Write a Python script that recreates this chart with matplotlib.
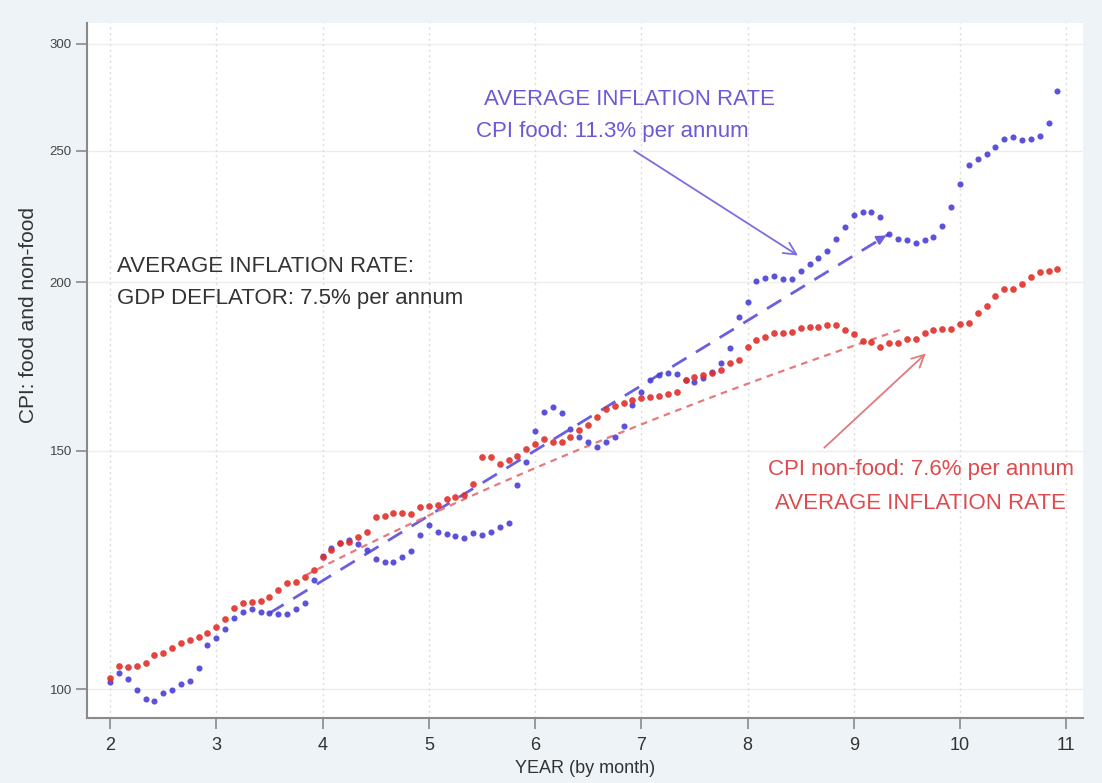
import numpy as np
import matplotlib
matplotlib.use("Agg")
import matplotlib.pyplot as plt
from matplotlib.ticker import FixedLocator, NullLocator, FixedFormatter

plt.rcParams['font.family'] = ['Liberation Sans', 'DejaVu Sans']

# monthly CPI readings, year 2 month 1 .. year 10 month 12
cpi_nonfood = [
    101.9, 104.0, 103.8, 104.0, 104.5, 106.0, 106.3, 107.2, 108.2, 108.7, 109.3, 110.0,
    111.1, 112.7, 114.8, 115.8, 116.0, 116.2, 117.0, 118.4, 119.8, 120.0, 121.0, 122.5,
    125.2, 126.7, 128.2, 128.5, 129.6, 130.7, 134.0, 134.3, 135.0, 135.0, 134.7, 136.4,
    136.6, 136.8, 138.2, 138.7, 139.2, 141.8, 148.5, 148.5, 146.7, 147.7, 148.7, 150.5,
    151.8, 153.1, 152.3, 152.3, 153.6, 155.5, 156.8, 158.9, 161.1, 161.9, 162.8, 163.6,
    164.2, 164.4, 164.7, 165.3, 165.9, 169.3, 170.2, 170.7, 171.3, 172.2, 174.3, 175.2,
    179.1, 181.2, 182.1, 183.4, 183.4, 183.7, 185.0, 185.3, 185.3, 185.9, 185.9, 184.3,
    183.1, 180.9, 180.6, 179.1, 180.3, 180.3, 181.5, 181.5, 183.4, 184.3, 184.7, 184.7,
    186.2, 186.5, 189.7, 192.0, 195.3, 197.7, 197.7, 199.4, 201.8, 203.5, 203.8, 204.5,
]
cpi_food = [
    101.2, 102.8, 101.7, 99.8, 98.3, 98.0, 99.3, 99.8, 100.9, 101.4, 103.6, 107.8,
    109.1, 110.8, 112.9, 114.0, 114.6, 114.0, 113.8, 113.6, 113.6, 114.6, 115.8, 120.4,
    125.4, 127.2, 128.2, 128.9, 128.0, 126.7, 124.8, 124.2, 124.2, 125.2, 126.5, 130.0,
    132.2, 130.7, 130.2, 129.8, 129.3, 130.4, 130.0, 130.7, 131.8, 132.7, 141.6, 147.2,
    155.2, 160.3, 161.7, 160.0, 155.7, 153.6, 152.3, 151.0, 152.3, 153.6, 156.5, 162.2,
    165.9, 169.3, 170.7, 171.3, 171.0, 169.3, 168.7, 169.9, 171.6, 174.3, 178.8, 188.5,
    193.3, 200.4, 201.4, 202.1, 201.1, 201.1, 203.8, 206.3, 208.4, 210.9, 215.2, 219.7,
    224.2, 225.4, 225.4, 223.5, 217.1, 215.2, 214.9, 213.8, 214.9, 216.0, 220.1, 227.3,
    236.4, 244.2, 246.7, 248.8, 251.8, 255.2, 256.1, 254.8, 255.2, 256.5, 262.3, 277.0,
]
years = 2 + np.arange(len(cpi_food)) / 12.0

# fitted trend lines (start/end)
food_trend_x = [3.5, 9.33]
food_trend_y = [113.8, 217.0]
nonfood_trend_x = [3.85, 9.45]
nonfood_trend_y = [121.5, 184.5]

x_ticks = [2, 3, 4, 5, 6, 7, 8, 9, 10, 11]
y_ticks = [100, 150, 200, 250, 300]

blue_dot = '#4a3fd6'
red_dot = '#e0302b'
blue_txt = '#6b5ad6'
red_txt = '#de4b4e'

fig = plt.figure(figsize=(11.02, 7.83), dpi=100, facecolor='#edf3f6')
ax = fig.add_axes([0.079, 0.083, 0.904, 0.888])
ax.set_facecolor('white')

ax.set_yscale('log')
ax.set_xlim(1.783, 11.16)
ax.set_ylim(95.2, 311)

# grid
for yt in y_ticks:
    ax.axhline(yt, color='#ededed', lw=1.0, zorder=0)
for xt in x_ticks:
    ax.axvline(xt, color='#dcdcdc', lw=1.0, ls=(0, (1.5, 2.5)), zorder=0)

# trend lines
ax.plot(food_trend_x, food_trend_y, color='#6a5fe0', lw=2.0, ls=(0, (6, 4)), zorder=2)
ax.annotate('', xy=(food_trend_x[1], food_trend_y[1]),
            xytext=(food_trend_x[1] - 0.08, food_trend_y[1] * 0.992),
            arrowprops=dict(arrowstyle='-|>', color='#6a5fe0', lw=1.5,
                            mutation_scale=14), zorder=2)
tx = np.linspace(nonfood_trend_x[0], nonfood_trend_x[1], 50)
ty = np.interp(tx, nonfood_trend_x, nonfood_trend_y)
ax.plot(tx, ty, color='#e8787a', lw=1.6, ls=(0, (3, 2.5)), zorder=2)

# data points
ax.plot(years, cpi_food, ls='none', marker='o', ms=4.4, color=blue_dot,
        markeredgewidth=0, alpha=0.9, zorder=3)
ax.plot(years, cpi_nonfood, ls='none', marker='o', ms=4.8, color=red_dot,
        markeredgewidth=0, alpha=0.9, zorder=3)

# axes styling
for s in ['top', 'right']:
    ax.spines[s].set_visible(False)
for s in ['left', 'bottom']:
    ax.spines[s].set_color('#8a8a8a')
    ax.spines[s].set_linewidth(1.5)
ax.yaxis.set_major_locator(FixedLocator(y_ticks))
ax.yaxis.set_major_formatter(FixedFormatter([str(v) for v in y_ticks]))
ax.yaxis.set_minor_locator(NullLocator())
ax.set_xticks(x_ticks)
ax.tick_params(axis='y', labelsize=9.5, length=8, width=1.2, color='#8a8a8a',
               labelcolor='#444444', pad=3)
ax.tick_params(axis='x', labelsize=13, length=8, width=1.2, color='#8a8a8a',
               labelcolor='#333333', pad=6)

ax.set_ylabel('CPI: food and non-food', fontsize=15, color='#333333')
ax.yaxis.set_label_coords(-0.049, 0.58)
ax.set_xlabel('YEAR (by month)', fontsize=13, color='#333333', labelpad=4)

# annotations
fs = 16
ax.text(0.398, 0.889, 'AVERAGE INFLATION RATE', transform=ax.transAxes,
        color=blue_txt, fontsize=fs, va='center', ha='left')
ax.text(0.390, 0.843, 'CPI food: 11.3% per annum', transform=ax.transAxes,
        color=blue_txt, fontsize=fs, va='center', ha='left')
ax.annotate('', xy=(0.716, 0.663), xytext=(0.547, 0.818), xycoords='axes fraction',
            arrowprops=dict(arrowstyle='->', color='#7b6fe0', lw=1.3,
                            mutation_scale=22))

ax.text(0.030, 0.649, 'AVERAGE INFLATION RATE:', transform=ax.transAxes,
        color='#333333', fontsize=fs, va='center', ha='left')
ax.text(0.030, 0.604, 'GDP DEFLATOR: 7.5% per annum', transform=ax.transAxes,
        color='#333333', fontsize=fs, va='center', ha='left')

ax.text(0.684, 0.357, 'CPI non-food: 7.6% per annum', transform=ax.transAxes,
        color=red_txt, fontsize=fs, va='center', ha='left')
ax.text(0.691, 0.309, 'AVERAGE INFLATION RATE', transform=ax.transAxes,
        color=red_txt, fontsize=fs, va='center', ha='left')
ax.annotate('', xy=(0.844, 0.527), xytext=(0.738, 0.386), xycoords='axes fraction',
            arrowprops=dict(arrowstyle='->', color='#e07a7c', lw=1.3,
                            mutation_scale=22))

fig.savefig('out.png', dpi=100, facecolor=fig.get_facecolor())
